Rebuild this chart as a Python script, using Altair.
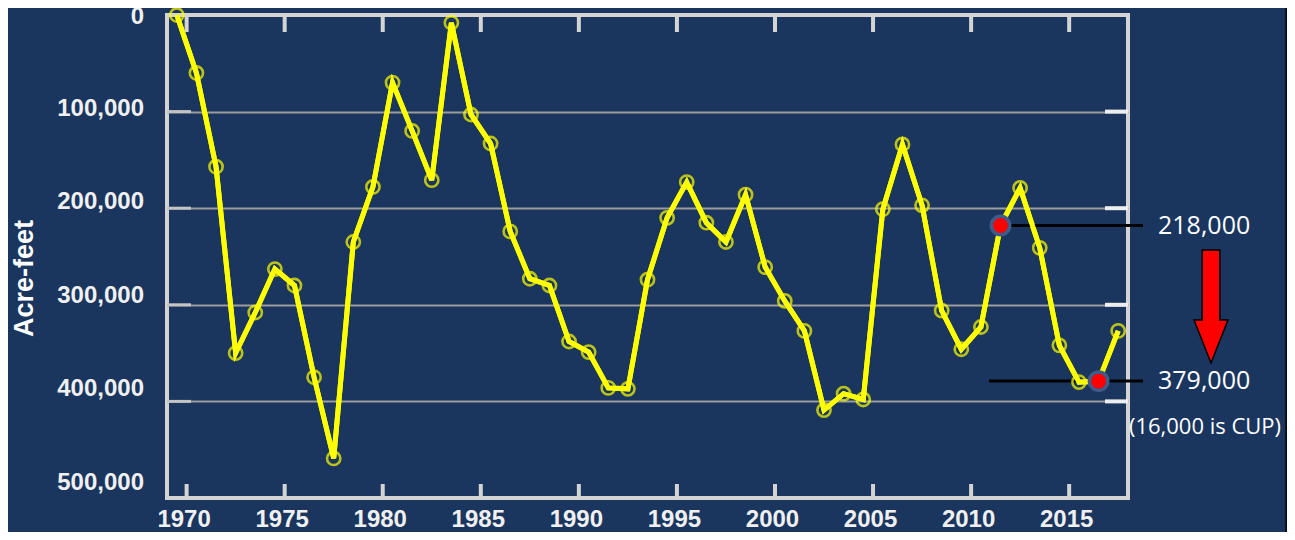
import altair as alt
import pandas as pd

# ---- data ----
years = list(range(1969, 2018))
acre_feet = [
    0, 60000, 157000, 350000, 308000, 263000, 280000, 375000, 459000, 235000,
    178000, 70000, 120000, 171000, 8000, 103000, 133000, 224000, 273000, 280000,
    338000, 349000, 386000, 387000, 274000, 210000, 173000, 215000, 235000, 186000,
    261000, 296000, 327000, 409000, 392000, 398000, 201000, 134000, 197000, 306000,
    346000, 323000, 218000, 179000, 241000, 342000, 380000, 379000, 327000,
]
highlight_years = [2011, 2016]
highlight_values = [218000, 379000]
highlight_labels = ["218,000", "379,000"]
note_text = ["(16,000 is CUP)"]

x_tick_years = [1970, 1975, 1980, 1985, 1990, 1995, 2000, 2005, 2010, 2015]
y_tick_values = [0, 100000, 200000, 300000, 400000, 500000]
y_inner_ticks = [100000, 200000, 300000, 400000]

BG = "#1a365e"
W, H = 961, 483

df = pd.DataFrame({"year": years, "af": acre_feet})
hl = pd.DataFrame({"year": highlight_years, "af": highlight_values, "label": highlight_labels})
xt = pd.DataFrame({"year": x_tick_years})
yt = pd.DataFrame({"v": y_tick_values})
yi = pd.DataFrame({"v": y_inner_ticks})

xscale = alt.Scale(domain=[1969, 2018], nice=False, zero=False)
yscale = alt.Scale(domain=[0, 500000], reverse=True, nice=False, zero=False)

lab_font = "Liberation Sans"

base = alt.Chart(df).transform_calculate(xp="datum.year + 0.5")

line = base.mark_line(color="#ffff00", strokeWidth=5).encode(
    x=alt.X("xp:Q", scale=xscale,
            axis=alt.Axis(values=x_tick_years, format="d", title=None, domain=False,
                          ticks=False, grid=False, labelFont=lab_font, labelFontSize=24,
                          labelFontWeight="bold", labelColor="#f0f0f0", labelPadding=9,
                          labelOffset=-3)),
    y=alt.Y("af:Q", scale=yscale,
            axis=alt.Axis(values=y_inner_ticks, labels=False, domain=False, ticks=False,
                          grid=True, gridColor="#9c9c9c", gridWidth=2,
                          title="Acre-feet", titleFont=lab_font, titleFontSize=27,
                          titleFontWeight="bold", titleColor="#ffffff", titleAngle=270,
                          titleAlign="center", titleBaseline="middle",
                          titleX=-142.5, titleY=263)),
)

pts = base.mark_point(shape="circle", filled=False, color="#ffff00", size=175,
                      strokeWidth=2.6).encode(
    x=alt.X("xp:Q", scale=xscale), y=alt.Y("af:Q", scale=yscale))

# y labels (text layer, slightly compressed like the reference)
ylab = alt.Chart(yt).transform_calculate(
    pos="max(datum.v * 0.969, 2500)", txt="format(datum.v, ',')"
).mark_text(align="right", baseline="middle", font=lab_font, fontSize=24,
            fontWeight="bold", color="#f0f0f0").encode(
    x=alt.value(-23), y=alt.Y("pos:Q", scale=yscale), text="txt:N")

# inward ticks
tick_col = "#d4d4d4"
bt = alt.Chart(xt).mark_rule(color=tick_col, strokeWidth=4).encode(
    x=alt.X("year:Q", scale=xscale), y=alt.value(H), y2=alt.value(H - 14))
tt = alt.Chart(xt).mark_rule(color=tick_col, strokeWidth=4).encode(
    x=alt.X("year:Q", scale=xscale), y=alt.value(0), y2=alt.value(17))
lt = alt.Chart(yi).mark_rule(color="#c4c4c4", strokeWidth=3).encode(
    y=alt.Y("v:Q", scale=yscale), x=alt.value(0), x2=alt.value(24))
rt = alt.Chart(yi).mark_rule(color="#eeeeee", strokeWidth=4).encode(
    y=alt.Y("v:Q", scale=yscale), x=alt.value(W), x2=alt.value(W - 23))

# annotation black lines
hl_base = alt.Chart(hl).transform_calculate(xp="datum.year + 0.5")
rule_hi = hl_base.transform_filter("datum.year == 2011").mark_rule(
    color="#000000", strokeWidth=3).encode(
    x=alt.X("xp:Q", scale=xscale), x2=alt.value(976), y=alt.Y("af:Q", scale=yscale))
rule_lo = hl_base.transform_filter("datum.year == 2016").mark_rule(
    color="#000000", strokeWidth=3).encode(
    x=alt.value(822), x2=alt.value(976), y=alt.Y("af:Q", scale=yscale))

red = hl_base.mark_point(shape="circle", filled=True, color="#ff0000", size=340,
                         opacity=1, stroke="#3d5c8a", strokeWidth=3.5).encode(
    x=alt.X("xp:Q", scale=xscale), y=alt.Y("af:Q", scale=yscale))

hl_text = alt.Chart(hl).mark_text(align="left", baseline="middle", font="Open Sans",
                                  fontSize=25, color="#ffffff").encode(
    x=alt.value(991), y=alt.Y("af:Q", scale=yscale), text="label:N")

note = alt.Chart(pd.DataFrame({"t": note_text})).mark_text(
    align="center", baseline="middle", font="Open Sans", fontSize=22,
    color="#ffffff").encode(x=alt.value(1038), y=alt.value(412), text="t:N")

arrow_path = ("M -0.156 -1 L 0.156 -1 L 0.156 0.24 L 0.30 0.24 L 0 1 "
              "L -0.30 0.24 L -0.156 0.24 Z")
arrow = alt.Chart(pd.DataFrame({"a": [1]})).mark_point(
    shape=arrow_path, filled=True, color="#ff0000", stroke="#000000",
    strokeWidth=1.5, size=12769, opacity=1).encode(
    x=alt.value(1044), y=alt.value(291.5))

edge = alt.Chart(pd.DataFrame({"a": [1]})).mark_rule(color="#050a14", strokeWidth=2.5).encode(
    x=alt.value(1119.5), y=alt.value(-7), y2=alt.value(H + 34))

chart = alt.layer(
    line, bt, tt, lt, rt, rule_hi, rule_lo, pts, line, red, ylab, hl_text, note, arrow, edge
).properties(
    width=W, height=H,
    autosize=alt.AutoSizeParams(type="none"),
    padding={"left": 159, "top": 7, "right": 159, "bottom": 34},
    background=BG,
).configure_view(stroke="#d4d4d4", strokeWidth=4)

chart.save("out.html", embed_options={"renderer": "svg", "actions": False})
